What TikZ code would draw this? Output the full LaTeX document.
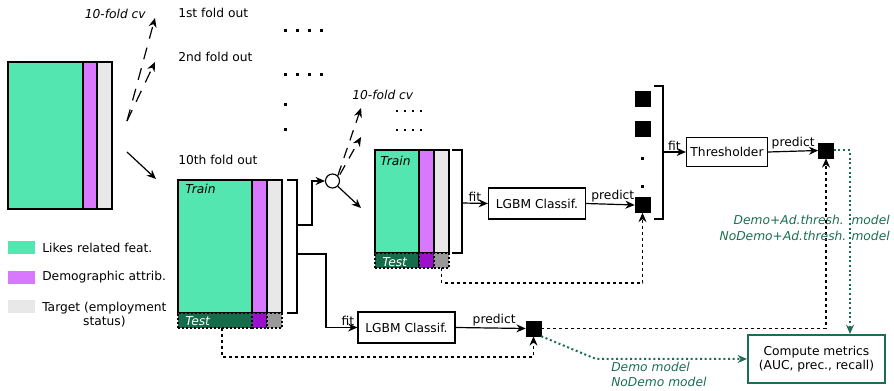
\documentclass[tikz,border=0pt]{standalone}
\usepackage{fontspec}
\setmainfont{DejaVu Sans}
\usetikzlibrary{arrows.meta}
\definecolor{likes}{HTML}{54E6B0}
\definecolor{demo}{HTML}{D778FF}
\definecolor{targ}{HTML}{E8E8E8}
\definecolor{testg}{HTML}{146C4A}
\definecolor{testp}{HTML}{9B10CC}
\definecolor{testk}{HTML}{999999}
\definecolor{tgreen}{HTML}{1B6E4F}
\def\u{0.75pt}
\begin{document}
\begin{tikzpicture}[x=0.75pt,y=-0.75pt,
  font=\fontsize{9.2}{11}\selectfont,
  cell/.style={draw, line width=0.85pt, inner sep=0, outer sep=0, anchor=north west},
  tcell/.style={cell, dash pattern=on 1.5pt off 1.5pt},
  box/.style={draw, line width=0.85pt, inner sep=0, minimum width=#1},
  sq/.style={fill=black, draw=black, inner sep=0, minimum size=15*\u},
  arr/.style={-{Stealth[length=7pt,width=6pt]}, line width=0.9pt},
  darr/.style={arr, dash pattern=on 2.25pt off 2.25pt},
  garr/.style={-{Stealth[length=7pt,width=6pt]}, draw=tgreen, line width=1.5pt, dash pattern=on 1.5pt off 2pt},
  lbl/.style={inner sep=0},
  ital/.style={lbl, font=\fontsize{9.2}{11}\selectfont\itshape},
  gtext/.style={lbl, font=\fontsize{9.2}{11.5}\selectfont\itshape, text=tgreen},
]
\useasboundingbox (0,0) rectangle (894,391);

% full data block
\node[cell, fill=likes, minimum width=75*\u, minimum height=147*\u] (bg) at (8,62) {};
\node[cell, fill=demo, minimum width=14*\u, minimum height=147*\u] (bd) at (83,62) {};
\node[cell, fill=targ, minimum width=15*\u, minimum height=147*\u] (bt) at (97,62) {};

% legend
\node[cell, draw=none, fill=likes, minimum width=27*\u, minimum height=13*\u] (l1) at (8,241) {};
\node[lbl, anchor=west] (l1t) at (42,247.5) {Likes related feat.};
\node[cell, draw=none, fill=demo, minimum width=27*\u, minimum height=13*\u] (l2) at (8,271) {};
\node[lbl, anchor=west] (l2t) at (42,277.5) {Demographic attrib.};
\node[cell, draw=none, fill=targ, minimum width=27*\u, minimum height=13*\u] (l3) at (8,300) {};
\node[lbl, anchor=west, align=center] (l3t) at (42,314.5) {Target (employment\\status)};

% 10-fold cv arrows (top)
\coordinate (cvs) at (127,121);
\coordinate (cv1) at (155,18);
\coordinate (cv2) at (155,62);
\draw[arr, dash pattern=on 9pt off 7pt] (cvs) -- (cv1);
\draw[arr, dash pattern=on 9pt off 7pt] (cvs) -- (cv2);
\node[ital, anchor=east] (cvl) at (146,14) {10-fold cv};
\coordinate (a10s) at (127,152);
\coordinate (a10e) at (156,179);
\draw[arr] (a10s) -- (a10e);

\node[lbl, anchor=west] (f1) at (178,13) {1st fold out};
\node[lbl, anchor=west] (f2) at (178,57) {2nd fold out};
\node[lbl, anchor=west] (f10) at (178,160) {10th fold out};
\foreach \x in {285,297,309,321} {
  \fill (\x-1.5,29.5) rectangle ++(3,3);
  \fill (\x-1.5,73.5) rectangle ++(3,3);
}
\fill (283.5,103.5) rectangle ++(3,3);
\fill (283.5,128.5) rectangle ++(3,3);

% 10th fold block
\node[cell, fill=likes, minimum width=74*\u, minimum height=133*\u] (fg) at (178,180) {};
\node[cell, fill=demo, minimum width=15*\u, minimum height=133*\u] (fd) at (252,180) {};
\node[cell, fill=targ, minimum width=15*\u, minimum height=133*\u] (ft) at (267,180) {};
\node[tcell, fill=testg, minimum width=74*\u, minimum height=15*\u] (ftg) at (178,313) {};
\node[tcell, fill=testp, minimum width=15*\u, minimum height=15*\u] (ftd) at (252,313) {};
\node[tcell, fill=testk, minimum width=15*\u, minimum height=15*\u] (ftt) at (267,313) {};
\node[ital, anchor=west] (ftrain) at (185,189) {Train};
\node[ital, anchor=west, text=white] (ftest) at (185,321) {Test};
\draw[line width=0.85pt] ([xshift=5*\u]ft.north east) -- ++(10,0) |- ([xshift=5*\u]ft.south east);
\coordinate (fb1) at (297,225);
\coordinate (fb2) at (297,254);

% circle
\node[draw, circle, line width=0.85pt, inner sep=0, minimum size=14*\u] (circ) at (332.5,181) {};
\draw[arr] (fb1) -- ++(15,0) |- (circ.west);
\coordinate (c1) at (361,108);
\coordinate (c2) at (361,137);
\coordinate (c3) at (361,208);
\draw[arr, dash pattern=on 8pt off 6pt] (circ.north east) -- (c1);
\draw[arr, dash pattern=on 8pt off 6pt] ([xshift=2*\u,yshift=1*\u]circ.north east) -- (c2);
\draw[arr] (circ.south east) -- (c3);
\node[ital, anchor=west] (cvl2) at (352,95) {10-fold cv};
\foreach \x in {397,405,413,421} {
  \fill (\x-1,110) rectangle ++(2,2);
  \fill (\x-1,129) rectangle ++(2,2);
}

% inner fold block
\node[cell, fill=likes, minimum width=44*\u, minimum height=103*\u] (ig) at (375,150) {};
\node[cell, fill=demo, minimum width=15*\u, minimum height=103*\u] (id) at (419,150) {};
\node[cell, fill=targ, minimum width=15*\u, minimum height=103*\u] (it) at (434,150) {};
\node[tcell, fill=testg, minimum width=44*\u, minimum height=15*\u] (itg) at (375,253) {};
\node[tcell, fill=testp, minimum width=15*\u, minimum height=15*\u] (itd) at (419,253) {};
\node[tcell, fill=testk, minimum width=15*\u, minimum height=15*\u] (itt) at (434,253) {};
\node[ital, anchor=west] (itrain) at (380,161) {Train};
\node[ital, anchor=west, text=white] (itest) at (382,262) {Test};
\draw[line width=0.85pt] ([xshift=3*\u]it.north east) -- ++(10,0) |- ([xshift=3*\u]it.south east);
\coordinate (ib) at (462,203);

% inner LGBM
\node[box=97*\u, minimum height=31*\u] (lg2) at (537,203.5) {LGBM Classif.};
\draw[arr] (ib) -- (lg2.west) node[midway, above=1pt, lbl] {fit};

% prediction squares column
\node[sq] (sqa) at (642.5,98.5) {};
\node[sq] (sqb) at (642.5,128.5) {};
\fill (641,157.5) rectangle ++(3,3);
\fill (641,185.5) rectangle ++(3,3);
\node[sq] (sqc) at (642.5,205) {};
\draw[arr] (lg2.east) -- (sqc.west) node[pos=0.55, above=1pt, lbl] {predict};
\draw[darr] (itt.south) -- ++(0,15) -| (sqc.south);
\draw[line width=0.85pt] (654,86) -- (663,86) -- (663,219) -- (654,219);
\coordinate (cb) at (663,152);

% thresholder
\node[box=81*\u, minimum height=29*\u] (thr) at (727,152) {Thresholder};
\draw[arr] (cb) -- (thr.west) node[midway, above=1pt, lbl] {fit};
\node[sq] (sq3) at (826,150.5) {};
\draw[arr] (thr.east) -- (sq3.west) node[midway, above=1pt, lbl] {predict};

% outer LGBM
\node[box=97*\u, minimum height=31*\u] (lg1) at (406.5,327.5) {LGBM Classif.};
\draw[arr] (fb2) -- ++(29,0) |- (lg1.west) node[pos=0.85, above=1pt, lbl] {fit};
\node[sq] (sq2) at (533.5,328.5) {};
\draw[arr] (lg1.east) -- (sq2.west) node[pos=0.55, above=1pt, lbl] {predict};
\draw[darr] ([xshift=44*\u]ftg.south west) -- ++(0,29) -| (sq2.south);

% compute metrics
\node[draw=tgreen, line width=1.5pt, minimum width=137*\u, minimum height=48*\u, align=center, inner sep=0] (cm) at (816.5,359) {Compute metrics\\(AUC, prec., recall)};
\draw[darr] (sq2.east) -| (sq3.south);
\draw[garr] (sq3.east) -| ([xshift=33.5*\u]cm.north);
\coordinate (gb) at (596,359);
\draw[garr] (sq2.south east) -- (gb) -- (cm.west);
\node[gtext, anchor=north west, align=left] (gm1) at (611,362) {Demo model\\NoDemo model};
\node[gtext, anchor=east, align=right] (gm2) at (890,228) {Demo+Ad.thresh.\ \ model\\NoDemo+Ad.thresh. model};
\end{tikzpicture}
\end{document}
